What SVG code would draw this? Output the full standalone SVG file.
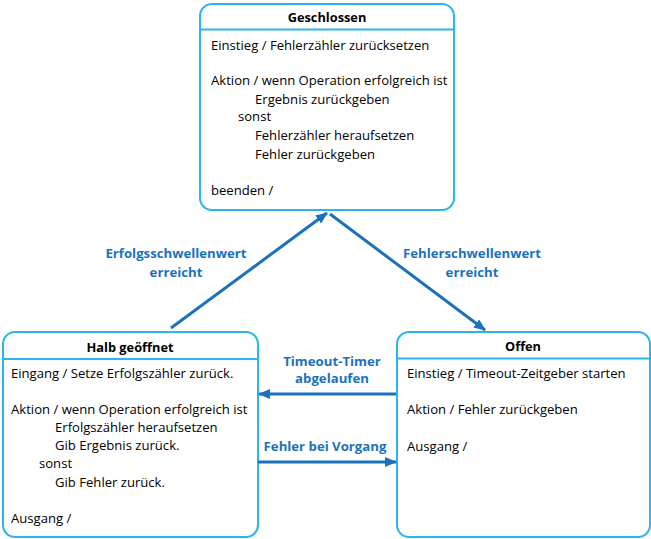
<svg xmlns="http://www.w3.org/2000/svg" width="651" height="539" viewBox="0 0 651 539">
<defs>
<marker id="ah" viewBox="0 0 12 10" refX="11" refY="5" markerWidth="12" markerHeight="10" markerUnits="userSpaceOnUse" orient="auto">
<path d="M0,0 L12,5 L0,10 Z" fill="#1b72bb"/>
</marker>
</defs>
<style>
.box{fill:#fff;stroke:#2bb5ea;stroke-width:2}
.sep{stroke:#2bb5ea;stroke-width:2}
.title{font-family:"Open Sans",sans-serif;font-weight:bold;font-size:12.8px;fill:#000;text-anchor:middle}
.t{font-family:"Open Sans",sans-serif;font-size:13.1px;fill:#000}
.lbl{font-family:"Open Sans",sans-serif;font-weight:bold;font-size:13.2px;fill:#1b72bb;text-anchor:middle}
.c{stroke:#1b72bb;stroke-width:3;fill:none;marker-end:url(#ah)}
</style>
<g id="geschlossen">
<rect class="box" x="200" y="4" width="254" height="206" rx="12"/>
<line class="sep" x1="200" y1="29.5" x2="454" y2="29.5"/>
<text class="title" x="327" y="22">Geschlossen</text>
<text class="t" x="211" y="50">Einstieg / Fehlerzähler zurücksetzen</text>
<text class="t" x="211" y="85">Aktion / wenn Operation erfolgreich ist</text>
<text class="t" x="255" y="104">Ergebnis zurückgeben</text>
<text class="t" x="238" y="121">sonst</text>
<text class="t" x="255" y="140">Fehlerzähler heraufsetzen</text>
<text class="t" x="255" y="159">Fehler zurückgeben</text>
<text class="t" x="211" y="195">beenden /</text>
</g>
<g id="halb">
<rect class="box" x="3" y="332" width="255" height="205" rx="12"/>
<line class="sep" x1="3" y1="359" x2="258" y2="359"/>
<text class="title" x="130" y="351.5">Halb geöffnet</text>
<text class="t" x="11" y="378">Eingang / Setze Erfolgszähler zurück.</text>
<text class="t" x="11" y="414">Aktion / wenn Operation erfolgreich ist</text>
<text class="t" x="55" y="432">Erfolgszähler heraufsetzen</text>
<text class="t" x="55" y="450">Gib Ergebnis zurück.</text>
<text class="t" x="39" y="468">sonst</text>
<text class="t" x="55" y="487">Gib Fehler zurück.</text>
<text class="t" x="11" y="523">Ausgang /</text>
</g>
<g id="offen">
<rect class="box" x="397" y="332" width="253" height="205" rx="12"/>
<line class="sep" x1="397" y1="358.5" x2="650" y2="358.5"/>
<text class="title" x="523" y="350.5">Offen</text>
<text class="t" x="407" y="378">Einstieg / Timeout-Zeitgeber starten</text>
<text class="t" x="407" y="414">Aktion / Fehler zurückgeben</text>
<text class="t" x="407" y="451">Ausgang /</text>
</g>
<g id="connectors">
<line class="c" x1="171" y1="328" x2="327" y2="213"/>
<line class="c" x1="330" y1="214" x2="485" y2="330"/>
<line class="c" x1="396" y1="394" x2="259" y2="394"/>
<line class="c" x1="258" y1="462" x2="396" y2="462"/>
<text class="lbl"><tspan x="176" y="258">Erfolgsschwellenwert</tspan><tspan x="176" y="277">erreicht</tspan></text>
<text class="lbl"><tspan x="472" y="258">Fehlerschwellenwert</tspan><tspan x="472" y="277">erreicht</tspan></text>
<text class="lbl"><tspan x="332" y="366">Timeout-Timer</tspan><tspan x="332" y="383">abgelaufen</tspan></text>
<text class="lbl" x="325" y="451">Fehler bei Vorgang</text>
</g>
</svg>
